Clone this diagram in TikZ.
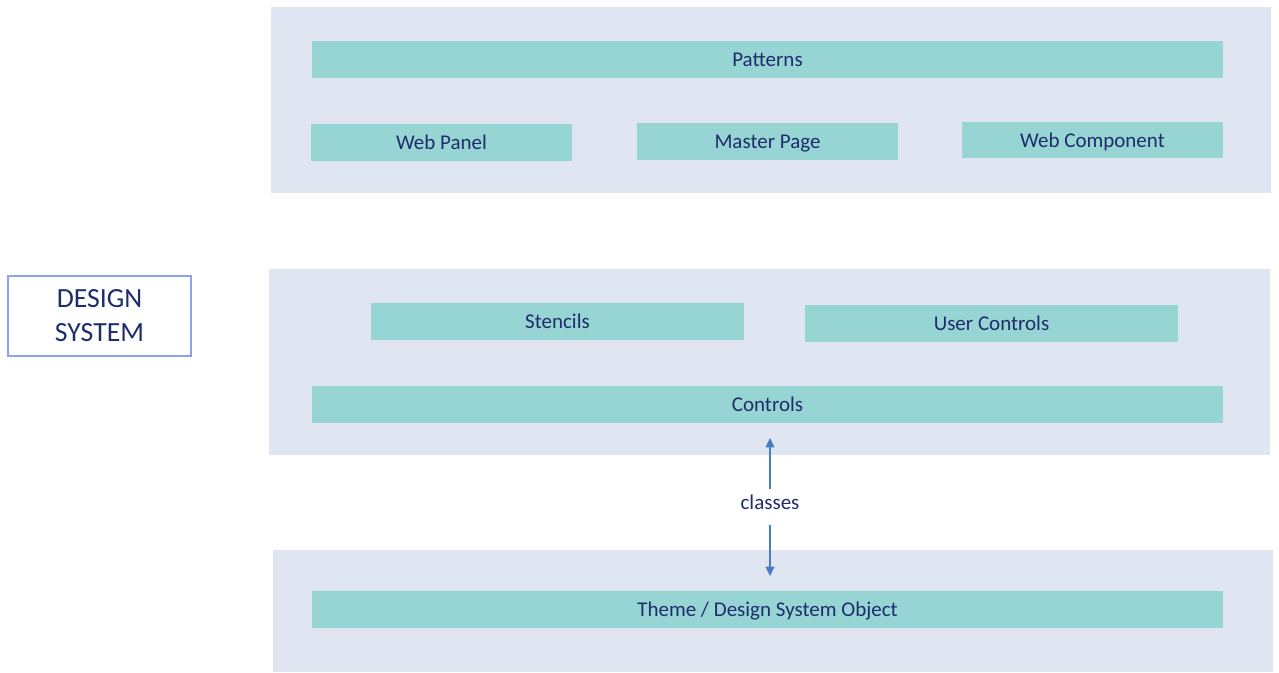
\documentclass[tikz,border=0pt]{standalone}
\usepackage{fontspec}
\setmainfont{Carlito}
\usetikzlibrary{arrows.meta}
\definecolor{panelc}{HTML}{DFE6F1}
\definecolor{barc}{HTML}{97D4D4}
\definecolor{textc}{HTML}{1F2D6B}
\definecolor{boxc}{HTML}{8FA0EE}
\definecolor{arrc}{HTML}{4A7CC4}
\tikzset{
  panel/.style={fill=panelc, draw=none, inner sep=0pt},
  bar/.style={fill=barc, draw=none, inner sep=0pt, text=textc,
    font=\fontsize{15.75pt}{18pt}\selectfont, minimum height=27.75pt,
    text height=11pt, text depth=0pt},
  dsbox/.style={draw=boxc, line width=1pt, fill=white, text=textc, align=center,
    font=\fontsize{20.8pt}{25.5pt}\selectfont, minimum width=137.25pt, minimum height=60pt, inner sep=0pt},
  conn/.style={draw=arrc, line width=1.1pt, {Triangle[width=6.5pt,length=7pt]}-{Triangle[width=6.5pt,length=7pt]}},
  lbl/.style={fill=white, text=textc, font=\fontsize{15.75pt}{18pt}\selectfont,
    inner xsep=2pt, inner ysep=7pt, text height=8pt, text depth=5pt}
}
\begin{document}
\begin{tikzpicture}[x=0.75pt,y=-0.75pt]
\useasboundingbox (0,0) rectangle (1279,672);
% panels
\node[panel, minimum width=750pt, minimum height=139.5pt] (p1) at (771,100) {};
\node[panel, minimum width=750.75pt, minimum height=139.5pt] (p2) at (769.5,362) {};
\node[panel, minimum width=750pt, minimum height=91.5pt] (p3) at (773,611) {};
% top panel
\node[bar, minimum width=683.25pt] (patterns) at (767.5,59.5) {Patterns};
\node[bar, minimum width=195.75pt] (webpanel) at (441.5,142.5) {Web Panel};
\node[bar, minimum width=195.75pt] (masterpage) at (767.5,141.5) {Master Page};
\node[bar, minimum width=195.75pt, minimum height=27pt] (webcomp) at (1092.5,140) {Web Component};
% middle panel
\node[bar, minimum width=279.75pt] (stencils) at (557.5,321.5) {Stencils};
\node[bar, minimum width=279.75pt] (userctl) at (991.5,323.5) {User Controls};
\node[bar, minimum width=683.25pt] (controls) at (767.5,404.5) {Controls};
% bottom panel
\node[bar, minimum width=683.25pt] (theme) at (767.5,609.5) {Theme / Design System Object};
% design system box
\node[dsbox] (ds) at (99.5,316) {DESIGN\\SYSTEM};
% connector
\draw[conn, shorten <=11pt, shorten >=11pt] ([xshift=1.9pt]controls.south) -- node[lbl] {classes} ([xshift=1.9pt]theme.north);
\end{tikzpicture}
\end{document}
